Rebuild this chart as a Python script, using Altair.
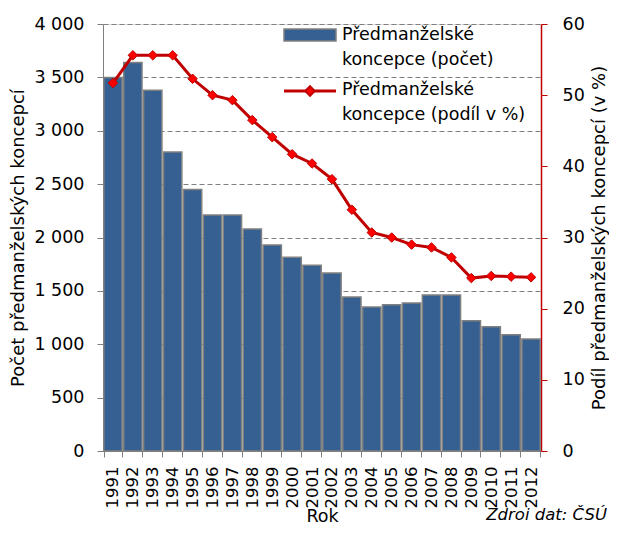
import altair as alt
import pandas as pd

years = ["1991", "1992", "1993", "1994", "1995", "1996", "1997", "1998", "1999", "2000", "2001",
         "2002", "2003", "2004", "2005", "2006", "2007", "2008", "2009", "2010", "2011", "2012"]
counts = [3500, 3640, 3380, 2800, 2450, 2210, 2210, 2080, 1930, 1815, 1740,
          1667, 1443, 1349, 1370, 1386, 1461, 1461, 1220, 1163, 1090, 1050]
shares = [51.7, 55.6, 55.6, 55.6, 52.3, 50.0, 49.3, 46.5, 44.1, 41.7, 40.4,
          38.2, 33.9, 30.7, 30.0, 29.0, 28.6, 27.2, 24.3, 24.6, 24.5, 24.4]
legend_labels = ["Předmanželské\nkoncepce (počet)", "Předmanželské\nkoncepce (podíl v %)"]
source_note = "Zdroi dat: ČSÚ"

FONT = "DejaVu Sans"
BLUE = "#376092"
RED = "#C00000"

df = pd.DataFrame({"Rok": years, "pocet": counts, "podil": shares})

x_enc = alt.X("Rok:N", sort=years,
              scale=alt.Scale(paddingInner=0.08, paddingOuter=0.04),
              axis=alt.Axis(title="Rok", labelAngle=270, tickBand="extent",
                            domainColor="#808080", tickColor="#808080", tickSize=6,
                            labelFontSize=16.5, titleFontSize=17.5, labelPadding=9,
                            titleX=219, titleY=65, titleBaseline="middle",
                            labelColor="black", titleColor="black",
                            titleFontWeight="normal", labelFont=FONT, titleFont=FONT))

bars = alt.Chart(df).mark_bar(color=BLUE, stroke="#808080", strokeWidth=1.5).encode(
    x=x_enc,
    y=alt.Y("pocet:Q", scale=alt.Scale(domain=[0, 4000]),
            axis=alt.Axis(orient="left", title="Počet předmanželských koncepcí",
                          values=[0, 500, 1000, 1500, 2000, 2500, 3000, 3500, 4000],
                          labelExpr="replace(format(datum.value, ',d'), ',', ' ')",
                          grid=True, gridDash=[5, 3], gridColor="#808080", gridWidth=1.2,
                          domainColor="#808080", tickColor="#808080", tickSize=6,
                          labelFontSize=17.5, titleFontSize=18, labelPadding=13,
                          titleX=-85, titleY=213.5, titleBaseline="middle",
                          labelColor="black", titleColor="black",
                          titleFontWeight="normal", labelFont=FONT, titleFont=FONT,
                          titleAngle=270))
)

line = alt.Chart(df).mark_line(
    color=RED, strokeWidth=3,
    point=alt.OverlayMarkDef(shape="diamond", size=90, fill="#FF0000", stroke=RED,
                             strokeWidth=1, filled=True)
).encode(
    x=alt.X("Rok:N", sort=years),
    y=alt.Y("podil:Q", scale=alt.Scale(domain=[0, 60]),
            axis=alt.Axis(orient="right", title="Podíl předmanželských koncepcí (v %)",
                          values=[0, 10, 20, 30, 40, 50, 60], grid=False,
                          domainColor=RED, tickColor=RED, tickSize=6, domainWidth=1.5,
                          labelFontSize=17.5, titleFontSize=18, labelPadding=15,
                          titleX=58, titleY=213.5, titleBaseline="middle",
                          labelColor="black", titleColor="black",
                          titleFontWeight="normal", labelFont=FONT, titleFont=FONT,
                          titleAngle=270))
)

# legend (decoration)
leg_rect = alt.Chart(pd.DataFrame({"k": [0]})).mark_rect(
    color=BLUE, stroke="#808080", strokeWidth=1.5).encode(
    x=alt.value(181), x2=alt.value(233), y=alt.value(5), y2=alt.value(17))
leg_line = alt.Chart(pd.DataFrame({"k": [0]})).mark_rule(
    color=RED, strokeWidth=3).encode(
    x=alt.value(181), x2=alt.value(233), y=alt.value(67))
leg_pt = alt.Chart(pd.DataFrame({"k": [0]})).mark_point(
    shape="diamond", size=90, fill="#FF0000", stroke=RED, filled=True, opacity=1).encode(
    x=alt.value(207), y=alt.value(67))
leg_txt1 = alt.Chart(pd.DataFrame({"t": [legend_labels[0]]})).mark_text(
    align="left", baseline="middle", lineBreak="\n", lineHeight=25, fontSize=17.5,
    font=FONT, color="black").encode(
    x=alt.value(239), y=alt.value(11), text="t:N")
leg_txt2 = alt.Chart(pd.DataFrame({"t": [legend_labels[1]]})).mark_text(
    align="left", baseline="middle", lineBreak="\n", lineHeight=25, fontSize=17.5,
    font=FONT, color="black").encode(
    x=alt.value(239), y=alt.value(66), text="t:N")
note = alt.Chart(pd.DataFrame({"t": [source_note]})).mark_text(
    align="right", baseline="middle", fontSize=16.5, font=FONT, fontStyle="italic",
    color="black").encode(x=alt.value(504), y=alt.value(491), text="t:N")

chart = alt.layer(bars, line, leg_rect, leg_line, leg_pt, leg_txt1, leg_txt2, note).resolve_scale(
    y="independent"
).properties(
    width=438, height=427,
    autosize=alt.AutoSizeParams(type="none"),
    padding={"left": 95, "top": 16, "right": 68, "bottom": 74},
).configure_view(stroke=None).configure(background="white")

chart.save("out.html", embed_options={"renderer": "svg", "actions": False})
